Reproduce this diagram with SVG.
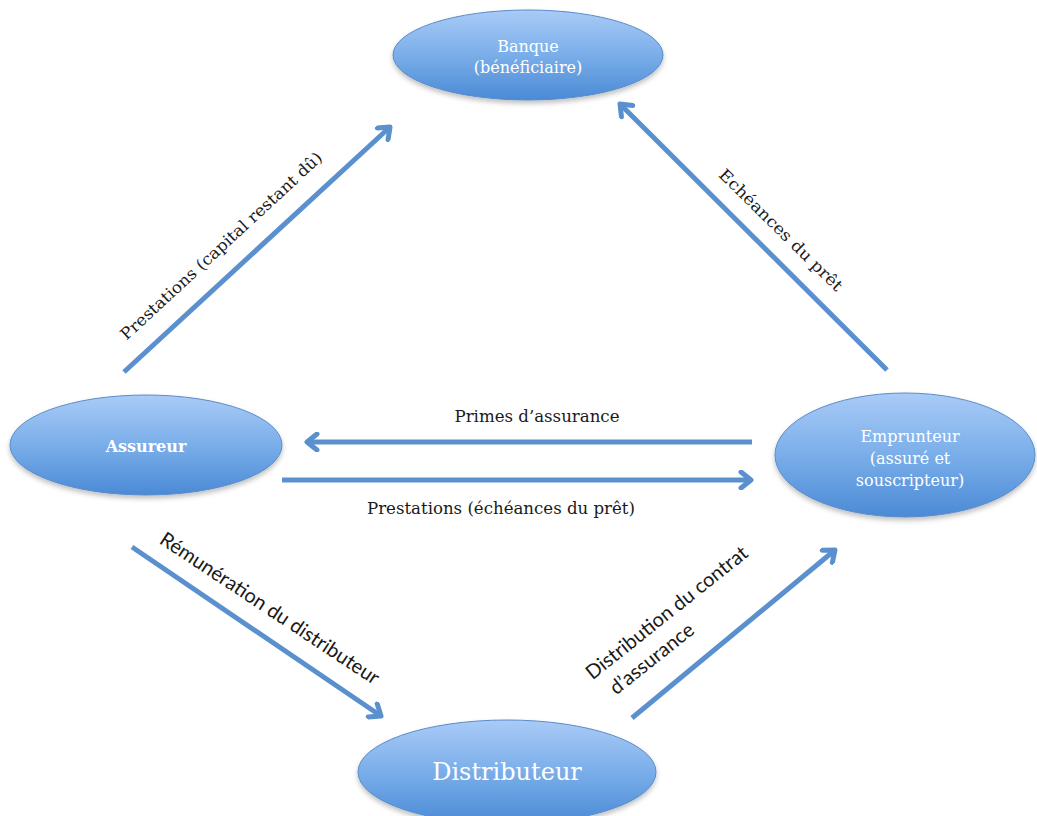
<svg xmlns="http://www.w3.org/2000/svg" width="1037" height="816" viewBox="0 0 1037 816">
<defs>
<linearGradient id="g" x1="0" y1="0" x2="0" y2="1">
<stop offset="0" stop-color="#a9cbf7"/>
<stop offset="0.5" stop-color="#7aaee9"/>
<stop offset="1" stop-color="#4b8ad6"/>
</linearGradient>
<filter id="sh" x="-10%" y="-10%" width="120%" height="130%">
<feDropShadow dx="0" dy="3" stdDeviation="2.5" flood-color="#000" flood-opacity="0.25"/>
</filter>
<marker id="ah" viewBox="0 0 20 20" refX="16" refY="10" markerWidth="20" markerHeight="20" markerUnits="userSpaceOnUse" orient="auto">
<polyline points="6,2 16,10 6,18" fill="none" stroke="#5b90cf" stroke-width="5" stroke-linecap="round" stroke-linejoin="round"/>
</marker>
</defs>
<style>
.node{fill:url(#g);stroke:#5a8cc8;stroke-width:1;filter:url(#sh)}
.nt{font-family:"DejaVu Serif","Liberation Serif",serif;fill:#fff;text-anchor:middle;font-size:16px}
.big{font-size:24px}
.edge{stroke:#5b90cf;stroke-width:5;fill:none;marker-end:url(#ah)}
.lbl{font-family:"DejaVu Serif","Liberation Serif",serif;fill:#1a1a1a;font-size:16px;text-anchor:middle}
.lbs{font-family:Lato,"Liberation Sans",sans-serif;fill:#1a1a1a;font-size:20px;text-anchor:middle}
</style>
<g id="connectors">
<line class="edge" x1="124" y1="372" x2="390" y2="127"/>
<line class="edge" x1="887" y1="370" x2="620" y2="104"/>
<line class="edge" x1="752" y1="442" x2="307" y2="442"/>
<line class="edge" x1="282" y1="480" x2="751" y2="480"/>
<line class="edge" x1="132" y1="547" x2="381" y2="716"/>
<line class="edge" x1="632" y1="718" x2="835" y2="550"/>
<text class="lbl" transform="translate(225,250) rotate(-42.7)" textLength="268" lengthAdjust="spacingAndGlyphs">Prestations (capital restant dû)</text>
<text class="lbl" transform="translate(777,234) rotate(44.5)" textLength="166" lengthAdjust="spacingAndGlyphs">Echéances du prêt</text>
<text class="lbl" x="537" y="422" textLength="165" lengthAdjust="spacingAndGlyphs">Primes d’assurance</text>
<text class="lbl" x="501" y="514" textLength="268" lengthAdjust="spacingAndGlyphs">Prestations (échéances du prêt)</text>
<text class="lbs" transform="translate(266,614) rotate(33.5)">Rémunération du distributeur</text>
<text class="lbs" transform="translate(671,618) rotate(-38.5)">Distribution du contrat</text>
<text class="lbs" transform="translate(656,664) rotate(-38.5)">d’assurance</text>
</g>
<g id="banque">
<ellipse class="node" cx="528" cy="55" rx="135" ry="45"/>
<text class="nt" x="528" y="52">Banque</text>
<text class="nt" x="528" y="73">(bénéficiaire)</text>
</g>
<g id="assureur">
<ellipse class="node" cx="146" cy="445" rx="136" ry="50"/>
<text class="nt" x="146" y="452" font-weight="bold">Assureur</text>
</g>
<g id="emprunteur">
<ellipse class="node" cx="905" cy="455" rx="130" ry="62"/>
<text class="nt" x="910" y="442">Emprunteur</text>
<text class="nt" x="910" y="464">(assuré et</text>
<text class="nt" x="910" y="486">souscripteur)</text>
</g>
<g id="distributeur">
<ellipse class="node" cx="507" cy="772" rx="149" ry="52"/>
<text class="nt big" x="507" y="780">Distributeur</text>
</g>
</svg>
